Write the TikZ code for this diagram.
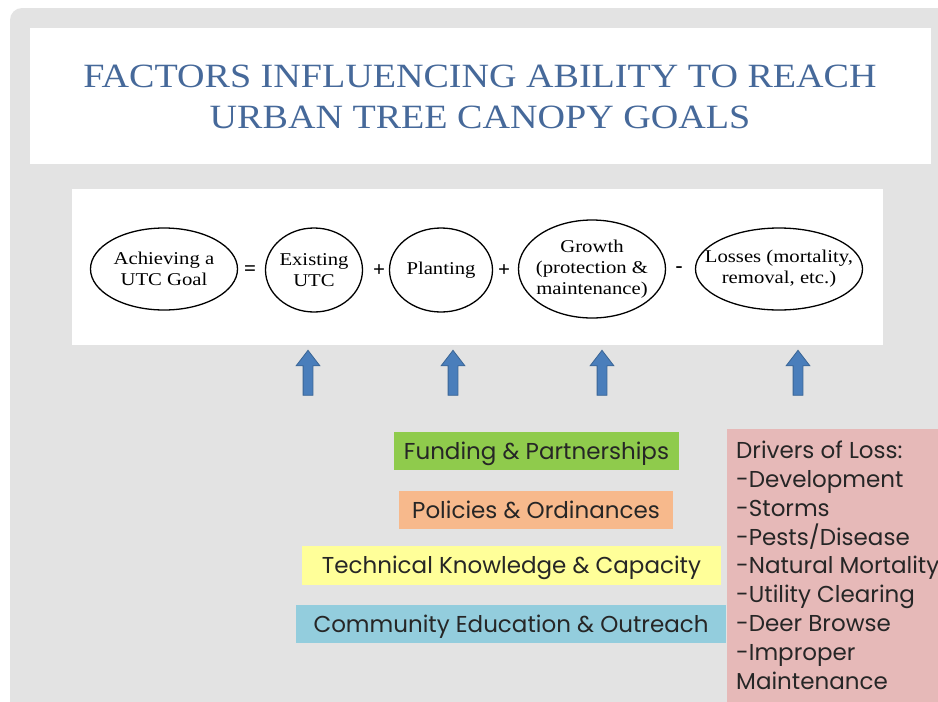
\documentclass[tikz,border=0pt]{standalone}
\usepackage{fontspec}
\usetikzlibrary{shapes.geometric,shapes.arrows}
\setmainfont{Liberation Serif}
\newfontfamily\gothic{Poppins}
\newfontfamily\eqfont[FakeStretch=1.15]{Liberation Serif}
\newfontfamily\headfont[FakeStretch=1.12]{Liberation Serif}
\definecolor{panelgray}{HTML}{E3E3E3}
\definecolor{titleblue}{HTML}{46699A}
\definecolor{fundgreen}{HTML}{8FCB4C}
\definecolor{policyorange}{HTML}{F7B98C}
\definecolor{techyellow}{HTML}{FFFF99}
\definecolor{outreachblue}{HTML}{93CDDD}
\definecolor{losspink}{HTML}{E6B9B8}
\definecolor{arrowblue}{HTML}{4A7EBB}
\definecolor{arrowline}{HTML}{3A6595}
\begin{document}
\begin{tikzpicture}[x=1pt,y=-1pt,
	goal/.style={draw,ellipse,line width=1.3pt,inner xsep=-30pt,inner ysep=-8pt,align=center,font=\eqfont\fontsize{18}{21}\selectfont},
	op/.style={font=\bfseries\fontsize{21}{21}\selectfont},
	lever/.style={inner sep=0pt,text height=16pt,text depth=0pt,font=\gothic\fontsize{23}{27}\selectfont,text=black!85},
	uparrow/.style={single arrow,rotate=90,draw=arrowline,fill=arrowblue,line width=0.8pt,minimum height=45pt,minimum width=23pt,inner sep=4.5pt,single arrow head extend=7pt,single arrow tip angle=75}]
			\useasboundingbox (0,0) rectangle (938,702);
			\clip (0,0) rectangle (938,702);
			\fill[white] (0,0) rectangle (938,702);
			\fill[panelgray,rounded corners=12pt] (10,8) rectangle (960,720);
			% title
			\fill[white] (30,28) rectangle (931,164);
			\node[align=center,text=titleblue,font=\headfont\fontsize{34}{41}\selectfont] (title) at (480,97) {FACTORS INFLUENCING ABILITY TO REACH\\URBAN TREE CANOPY GOALS};
			% equation
			\fill[white] (72,189) rectangle (883,345);
			\node[goal,minimum width=147pt,minimum height=82pt] (goal) at (164,269) {Achieving a\\UTC Goal};
			\node[op] (eq) at (250,271) {=};
			\node[goal,minimum width=97pt,minimum height=84pt] (existing) at (314,270) {Existing\\UTC};
			\node[op] (plusA) at (379,271) {+};
			\node[goal,minimum width=103pt,minimum height=84pt] (planting) at (441,270) {Planting};
			\node[op] (plusB) at (504,271) {+};
			\node[goal,minimum width=147pt,minimum height=98pt] (growth) at (592,269) {Growth\\(protection \&\\maintenance)};
			\node[op] (minus) at (679,270) {-};
			\node[goal,minimum width=167pt,minimum height=82pt] (losses) at (779,269) {Losses (mortality,\\removal, etc.)};
			% arrows up
			\node[uparrow] (upexisting) at (308,376) {};
			\node[uparrow] (upplanting) at (453,376) {};
			\node[uparrow] (upgrowth) at (602,376) {};
			\node[uparrow] (uplosses) at (798,376) {};
			% factors
			\node[lever,fill=fundgreen,minimum width=285pt,minimum height=38pt] (funding) at (536.5,451) {Funding \& Partnerships};
			\node[lever,fill=policyorange,minimum width=274pt,minimum height=38pt] (policies) at (536,510) {Policies \& Ordinances};
			\node[lever,fill=techyellow,minimum width=419pt,minimum height=39pt] (technical) at (511.5,565.5) {Technical Knowledge \& Capacity};
			\node[lever,fill=outreachblue,minimum width=430pt,minimum height=38pt] (outreach) at (511,624) {Community Education \& Outreach};
			\fill[losspink] (727,429) rectangle (945,710);
			\node[inner sep=0pt,text=black!85,anchor=north west,align=left,font=\gothic\fontsize{23}{28.8}\selectfont] (drivers) at (736,441) {Drivers of Loss:\\-Development\\-Storms\\-Pests/Disease\\-Natural Mortality\\-Utility Clearing\\-Deer Browse\\-Improper\\Maintenance};
		\end{tikzpicture}
\end{document}
